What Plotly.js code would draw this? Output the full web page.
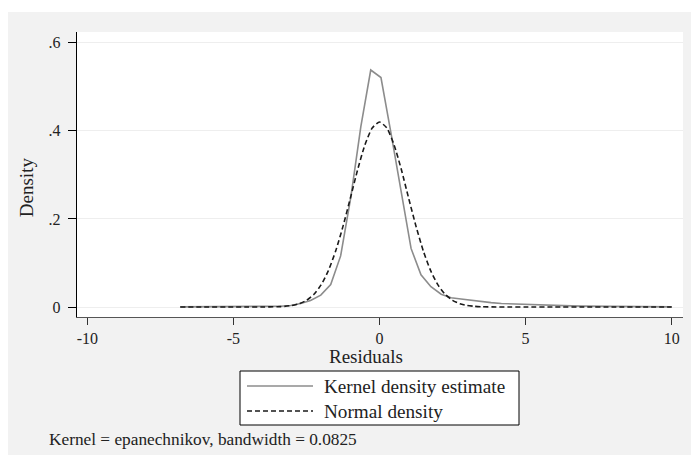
<!DOCTYPE html>
<html>
<head>
<meta charset="utf-8">
<script src="https://cdn.plot.ly/plotly-3.0.1.min.js"></script>
<style>html,body{margin:0;padding:0;background:#fff;}#chart{width:691px;height:455px;}</style>
</head>
<body>
<div id="chart"></div>
<script>
// Kernel density estimate (evaluated on Stata's 50-point grid)
var kdeX = [-6.82,-6.48,-6.13,-5.79,-5.45,-5.10,-4.76,-4.42,-4.07,-3.73,
            -3.39,-3.04,-2.70,-2.36,-2.01,-1.67,-1.33,-0.98,-0.64,-0.30,
             0.05,0.39,0.73,1.08,1.42,1.76,2.11,2.45,2.79,3.14,
             3.48,3.82,4.17,4.51,4.85,5.20,5.54,5.88,6.22,6.57,
             6.91,7.25,7.60,7.94,8.28,8.63,8.97,9.31,9.66,10.00];
var kdeY = [0.0003,0.0003,0.0003,0.0004,0.0004,0.0005,0.0005,0.0006,0.0008,0.0011,
            0.0018,0.0035,0.008,0.015,0.027,0.051,0.116,0.25,0.409,0.538,
            0.521,0.396,0.27,0.133,0.073,0.046,0.029,0.021,0.018,0.015,
            0.012,0.010,0.008,0.007,0.006,0.005,0.004,0.0035,0.003,0.0025,
            0.002,0.0018,0.0015,0.0012,0.001,0.0008,0.0006,0.0005,0.0004,0.0003];
// Normal density overlay
var normX = [-6.82,-6,-5,-4.5,-4,-3.5,-3.25,-3,-2.75,-2.5,
             -2.25,-2,-1.75,-1.5,-1.25,-1,-0.75,-0.5,-0.25,0,
              0.25,0.5,0.75,1,1.25,1.5,1.75,2,2.25,2.5,
              2.75,3,3.25,3.5,4,4.5,5,6,7,8,9,10];
var normY = [0,0,0,0,0.0001,0.0006,0.0015,0.0035,0.0075,0.0152,
             0.0285,0.0501,0.0825,0.1271,0.1831,0.2463,0.3114,0.3678,0.4063,0.42,
             0.4063,0.3678,0.3114,0.2463,0.1831,0.1271,0.0825,0.0501,0.0285,0.0152,
             0.0075,0.0035,0.0015,0.0006,0.0001,0,0,0,0,0,0,0];
var seriesNames = ['Kernel density estimate', 'Normal density'];
var xTicks = [-10, -5, 0, 5, 10];
var xTickText = ['-10', '-5', '0', '5', '10'];
var yTicks = [0, 0.2, 0.4, 0.6];
var yTickText = ['0', '.2', '.4', '.6'];
var xTitle = 'Residuals';
var yTitle = 'Density';
var noteText = 'Kernel = epanechnikov, bandwidth = 0.0825';

var FONT = 'Liberation Serif, Times New Roman, serif';
var W = 691, H = 455, L = 77, R = 8, T = 32, B = 138;
var pw = W - L - R, ph = H - T - B;
function px(x) { return (x - L) / pw; }
function py(y) { return (H - B - y) / ph; }

var KDE_COLOR = '#8c8c8c', NORM_COLOR = '#1a1a1a', NORM_DASH = '5px,3px';

var traces = [
  {x: kdeX, y: kdeY, type: 'scatter', mode: 'lines', name: seriesNames[0],
   line: {color: KDE_COLOR, width: 1.6}},
  {x: normX, y: normY, type: 'scatter', mode: 'lines', name: seriesNames[1],
   line: {color: NORM_COLOR, width: 1.6, dash: NORM_DASH, shape: 'spline', smoothing: 0.6}}
];

// legend box geometry (pixels)
var LG = {x0: 240, x1: 519, y0: 371, y1: 425, s0: 247, s1: 313, tx: 322, r1: 386, r2: 411};

var layout = {
  width: W, height: H,
  margin: {l: L, r: R, t: T, b: B, pad: 0},
  paper_bgcolor: '#f2f2f2',
  plot_bgcolor: '#ffffff',
  font: {family: FONT, size: 16, color: '#222'},
  showlegend: false,
  xaxis: {
    range: [-10.353, 10.387], tickvals: xTicks, ticktext: xTickText,
    showline: true, linecolor: '#555', linewidth: 1.2,
    ticks: 'outside', ticklen: 7, tickcolor: '#333', tickwidth: 1,
    showgrid: false, zeroline: false,
    tickfont: {family: FONT, size: 16, color: '#222'}
  },
  yaxis: {
    range: [-0.0227, 0.6243], tickvals: yTicks, ticktext: yTickText,
    showline: true, linecolor: '#000', linewidth: 1.2,
    ticks: 'outside', ticklen: 8, tickcolor: '#000', tickwidth: 1,
    ticklabelstandoff: 4,
    showgrid: true, gridcolor: '#eeeeee', gridwidth: 1, zeroline: false,
    tickfont: {family: FONT, size: 16, color: '#222'}
  },
  shapes: [
    {type: 'rect', xref: 'paper', yref: 'paper', x0: px(0), x1: px(W), y0: py(12), y1: py(0),
     fillcolor: '#ffffff', line: {width: 0}},
    {type: 'rect', xref: 'paper', yref: 'paper', x0: px(0), x1: px(8), y0: py(H), y1: py(0),
     fillcolor: '#ffffff', line: {width: 0}},
    // legend box
    {type: 'rect', xref: 'paper', yref: 'paper', x0: px(LG.x0), x1: px(LG.x1), y0: py(LG.y1), y1: py(LG.y0),
     fillcolor: '#ffffff', line: {color: '#000', width: 1}},
    {type: 'line', xref: 'paper', yref: 'paper', x0: px(LG.s0), x1: px(LG.s1), y0: py(LG.r1), y1: py(LG.r1),
     line: {color: KDE_COLOR, width: 1.6}},
    {type: 'line', xref: 'paper', yref: 'paper', x0: px(LG.s0), x1: px(LG.s1), y0: py(LG.r2), y1: py(LG.r2),
     line: {color: NORM_COLOR, width: 1.6, dash: NORM_DASH}}
  ],
  annotations: [
    {text: xTitle, xref: 'paper', yref: 'paper', x: px(365.5), y: py(356),
     xanchor: 'center', yanchor: 'middle', showarrow: false,
     font: {family: FONT, size: 19, color: '#222'}},
    {text: yTitle, xref: 'paper', yref: 'paper', x: px(26.7), y: py(187.5),
     xanchor: 'center', yanchor: 'middle', showarrow: false, textangle: -90,
     font: {family: FONT, size: 19, color: '#222'}},
    {text: seriesNames[0], xref: 'paper', yref: 'paper', x: px(LG.tx), y: py(LG.r1),
     xanchor: 'left', yanchor: 'middle', showarrow: false,
     font: {family: FONT, size: 19.2, color: '#222'}},
    {text: seriesNames[1], xref: 'paper', yref: 'paper', x: px(LG.tx), y: py(LG.r2),
     xanchor: 'left', yanchor: 'middle', showarrow: false,
     font: {family: FONT, size: 19.2, color: '#222'}},
    {text: noteText, xref: 'paper', yref: 'paper', x: px(47), y: py(439),
     xanchor: 'left', yanchor: 'middle', showarrow: false,
     font: {family: FONT, size: 17.3, color: '#222'}}
  ]
};

Plotly.newPlot('chart', traces, layout, {displayModeBar: false, staticPlot: true});
</script>
</body>
</html>
